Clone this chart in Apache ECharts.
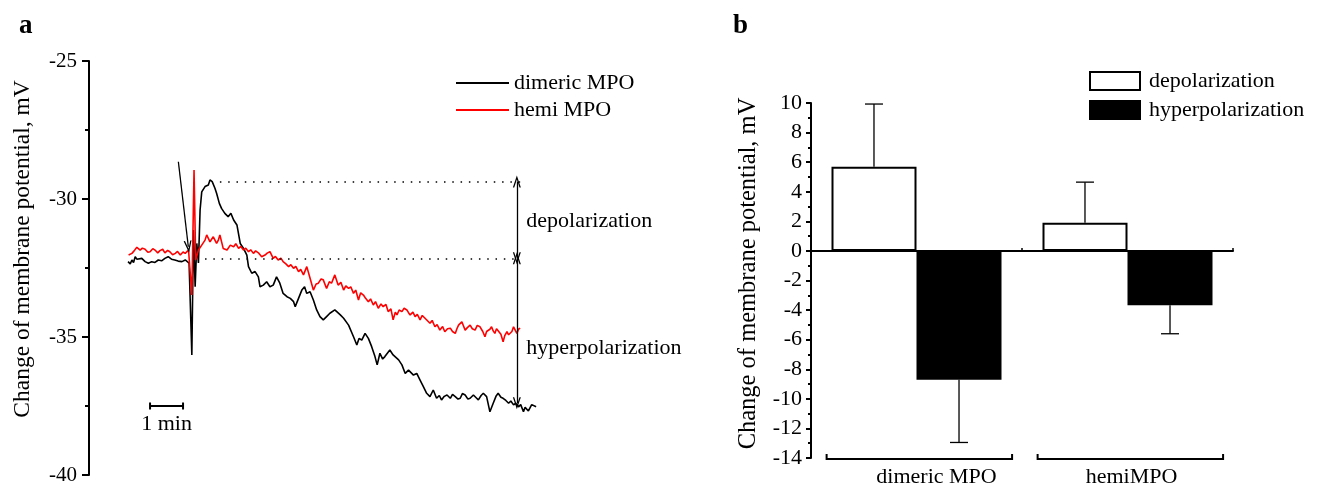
<!DOCTYPE html>
<html><head><meta charset="utf-8">
<script src="https://cdn.jsdelivr.net/npm/echarts@6/dist/echarts.min.js"></script>
<style>html,body{margin:0;padding:0;background:#fff}#c{width:1320px;height:488px}</style>
</head><body><div id="c"></div>
<script>
const FONT = 'Liberation Serif';

// ---------- Panel a : traces (time in s, potential in mV) ----------
const dimericTrace = [[0,-32.27],[4,-32.35],[7,-32.21],[10,-32.30],[13,-32.09],[16,-32.18],[19,-32.21],[25,-32.15],[31,-32.27],[37,-32.33],[43,-32.27],[49,-32.30],[55,-32.21],[61,-32.24],[67,-32.15],[73,-32.09],[79,-32.18],[85,-32.21],[91,-32.25],[98,-32.27],[104,-32.21],[111,-32.32],[116,-35.65],[119,-31.12],[122,-33.18],[125,-31.61],[128,-32.32],[131,-30.40],[134,-29.74],[140,-29.55],[146,-29.49],[149,-29.31],[153,-29.37],[158,-29.61],[161,-29.79],[166,-30.16],[170,-30.34],[176,-30.52],[182,-30.64],[187,-30.52],[192,-30.76],[198,-30.94],[204,-31.61],[210,-31.79],[216,-32.03],[219,-32.45],[225,-32.69],[231,-32.63],[237,-32.82],[240,-33.18],[246,-33.12],[252,-33.00],[258,-33.18],[264,-33.12],[270,-32.82],[276,-33.05],[282,-33.42],[289,-33.54],[295,-33.60],[301,-33.72],[304,-33.90],[310,-33.60],[316,-33.30],[321,-33.18],[325,-33.42],[331,-33.36],[337,-33.66],[343,-34.02],[349,-34.26],[355,-34.38],[361,-34.26],[367,-34.14],[376,-34.02],[386,-34.20],[392,-34.32],[401,-34.57],[410,-34.99],[416,-35.29],[420,-35.05],[425,-35.11],[431,-34.87],[437,-35.05],[443,-35.35],[449,-35.71],[453,-36.01],[458,-35.59],[463,-35.80],[467,-35.71],[476,-35.47],[482,-35.65],[492,-35.83],[498,-36.01],[504,-36.32],[510,-36.20],[519,-36.38],[525,-36.32],[531,-36.56],[537,-36.80],[543,-37.04],[549,-37.16],[555,-36.92],[561,-37.22],[566,-37.12],[570,-37.28],[575,-37.15],[580,-37.10],[586,-37.22],[590,-37.08],[595,-37.16],[600,-37.25],[604,-37.22],[608,-37.05],[613,-37.10],[618,-37.25],[622,-37.22],[628,-37.10],[633,-37.20],[637,-37.28],[642,-37.12],[646,-37.04],[652,-37.16],[658,-37.71],[664,-37.40],[669,-37.15],[673,-37.04],[678,-37.18],[682,-37.22],[687,-37.30],[692,-37.40],[696,-37.32],[701,-37.46],[705,-37.40],[710,-37.53],[714,-37.45],[719,-37.71],[722,-37.55],[725,-37.53],[728,-37.68],[731,-37.64],[734,-37.45],[737,-37.46],[742,-37.53]];

const hemiTrace = [[1,-32.03],[7,-31.97],[11,-31.88],[16,-31.75],[22,-31.85],[26,-31.78],[31,-31.82],[36,-31.93],[40,-31.91],[45,-31.80],[49,-31.85],[54,-31.95],[58,-31.87],[63,-31.82],[67,-31.95],[72,-31.86],[76,-31.91],[81,-32.02],[86,-31.97],[90,-31.90],[95,-32.03],[100,-31.92],[104,-31.97],[110,-31.85],[116,-33.48],[120,-28.95],[123,-32.21],[128,-31.85],[134,-31.67],[140,-31.49],[143,-31.30],[149,-31.55],[155,-31.37],[161,-31.61],[164,-31.50],[167,-31.30],[173,-31.79],[180,-31.85],[186,-31.67],[192,-31.73],[196,-31.62],[201,-31.79],[205,-31.72],[210,-31.85],[214,-31.78],[219,-31.91],[223,-31.84],[228,-31.97],[232,-31.88],[237,-31.95],[243,-32.09],[249,-32.03],[253,-31.96],[258,-31.91],[264,-32.15],[268,-32.08],[273,-32.21],[278,-32.14],[282,-32.27],[287,-32.35],[292,-32.45],[296,-32.38],[301,-32.51],[305,-32.44],[310,-32.63],[314,-32.55],[319,-32.75],[325,-32.45],[331,-32.87],[337,-33.30],[342,-33.08],[346,-33.05],[351,-32.90],[355,-32.93],[361,-33.24],[366,-33.00],[370,-33.05],[376,-32.75],[382,-33.12],[387,-33.02],[392,-33.30],[396,-33.15],[401,-33.24],[405,-33.18],[410,-33.42],[414,-33.30],[419,-33.66],[423,-33.40],[428,-33.48],[432,-33.60],[437,-33.72],[441,-33.62],[446,-33.84],[450,-33.72],[455,-33.96],[460,-33.80],[464,-33.90],[469,-33.82],[473,-34.08],[478,-33.98],[482,-34.38],[486,-34.10],[489,-34.20],[493,-34.02],[498,-34.08],[502,-33.96],[507,-34.02],[510,-34.12],[513,-34.20],[518,-34.10],[522,-34.26],[526,-34.18],[531,-34.38],[535,-34.22],[540,-34.32],[545,-34.42],[549,-34.50],[553,-34.40],[558,-34.63],[562,-34.55],[567,-34.75],[572,-34.62],[576,-34.81],[581,-34.70],[586,-34.68],[590,-34.80],[595,-34.87],[598,-34.70],[601,-34.57],[604,-34.62],[607,-34.45],[610,-34.60],[613,-34.75],[617,-34.66],[622,-34.57],[626,-34.70],[631,-34.75],[635,-34.58],[640,-34.63],[645,-34.80],[649,-34.99],[652,-34.80],[655,-34.87],[658,-34.72],[661,-34.63],[664,-34.78],[667,-34.87],[670,-34.70],[673,-34.75],[678,-34.90],[682,-35.17],[685,-34.95],[689,-34.81],[692,-34.92],[695,-34.99],[698,-34.80],[701,-34.63],[704,-34.75],[707,-34.87],[710,-34.72],[713,-34.68]];

const scaleBar = [[40,-37.5],[100,-37.5]];          // 1 min scale bar
const peakLevel = -29.37;       // dotted line, depolarization peak
const baseLevel = -32.15;       // dotted line, baseline
const hyperLevel = -37.40;      // end of hyperpolarization arrow
const arrowTime = 707;          // time of the double arrows
const dotEnd = 713;
const pointerFrom = [91.5, -28.65];
const pointerTo = [109.6, -31.73];

// ---------- Panel b : mean change, mV ----------
const groups = ['dimeric MPO', 'hemiMPO'];
const depolMean = [5.69, 1.91];
const depolErr = [4.24, 2.74];
const hyperMean = [-8.71, -3.68];
const hyperErr = [4.24, 1.92];

const ARROW = 'path://M0,12 L5,0 L10,12 L8.3,12 L5,3.9 L1.7,12 Z';
const txt = {fontFamily: FONT, color: '#000'};
const dotted = {type: [1.5, 6.8], width: 1.5};

const chart = echarts.init(document.getElementById('c'), null, {renderer: 'canvas'});
chart.setOption({
  animation: false,
  backgroundColor: '#fff',
  title: [
    {text: 'a', left: 14, top: 8, textStyle: {...txt, fontSize: 27, fontWeight: 'bold'}},
    {text: 'b', left: 728, top: 8, textStyle: {...txt, fontSize: 27, fontWeight: 'bold'}}
  ],
  legend: [
    {data: ['dimeric MPO', 'hemi MPO'], orient: 'vertical', left: 451, top: 67, itemWidth: 53, itemHeight: 2,
     itemGap: 5, icon: 'rect', textStyle: {...txt, fontSize: 22}, selectedMode: false},
    {data: ['depolarization', 'hyperpolarization'], orient: 'vertical', left: 1084, top: 65, itemWidth: 50, itemHeight: 18,
     itemGap: 7, icon: 'rect', textStyle: {...txt, fontSize: 22, padding: [0, 0, 0, 4]}, selectedMode: false}
  ],
  grid: [
    {left: 89, top: 61, width: 468, height: 414},
    {left: 811, top: 103, width: 422, height: 355}
  ],
  xAxis: [
    {gridIndex: 0, type: 'value', min: -71, max: 780, show: false},
    {gridIndex: 1, type: 'category', data: groups,
     axisLine: {onZero: true, lineStyle: {color: '#000', width: 2}},
     axisTick: {show: true, inside: true, length: 3, lineStyle: {color: '#000', width: 1.5}},
     axisLabel: {show: false}, splitLine: {show: false}},
    {gridIndex: 1, type: 'category', data: groups, position: 'bottom',
     axisLine: {show: false, onZero: false}, axisTick: {show: false}, splitLine: {show: false},
     axisLabel: {margin: 8, formatter: (v, i) => i === 0 ? '{a|' + v + '}' : '{b|' + v + '}',
       rich: {a: {...txt, fontSize: 22, padding: [0, 0, 0, 40]}, b: {...txt, fontSize: 22, padding: [0, 0, 0, 8]}}}}
  ],
  yAxis: [
    {gridIndex: 0, type: 'value', min: -40, max: -25, interval: 5,
     axisLine: {show: true, onZero: false, lineStyle: {color: '#000', width: 2}},
     axisTick: {show: true, length: 7, lineStyle: {color: '#000', width: 2}},
     minorTick: {show: true, splitNumber: 2, length: 4, lineStyle: {color: '#000', width: 2}},
     splitLine: {show: false},
     axisLabel: {...txt, fontSize: 21, margin: 12},
     name: 'Change of membrane potential, mV', nameLocation: 'middle', nameGap: 54,
     nameTextStyle: {...txt, fontSize: 23.5, padding: [0, 0, 0, 38]}},
    {gridIndex: 1, type: 'value', min: -14, max: 10, interval: 2,
     axisLine: {show: true, onZero: false, lineStyle: {color: '#000', width: 2}},
     axisTick: {show: true, length: 5, lineStyle: {color: '#000', width: 2}},
     minorTick: {show: true, splitNumber: 2, length: 3, lineStyle: {color: '#000', width: 2}},
     splitLine: {show: false},
     axisLabel: {...txt, fontSize: 22, margin: 9},
     name: 'Change of membrane potential, mV', nameLocation: 'middle', nameGap: 50,
     nameTextStyle: {...txt, fontSize: 24.5, padding: [0, 0, 0, 14]}}
  ],
  series: [
    {name: 'dimeric MPO', type: 'line', xAxisIndex: 0, yAxisIndex: 0, data: dimericTrace, symbol: 'none',
     lineStyle: {color: '#000', width: 1.6}, itemStyle: {color: '#000'}, z: 3,
     markLine: {silent: true, animation: false, symbol: ['none', 'none'], label: {show: false},
       lineStyle: {color: '#000', width: 1.3, type: 'solid'},
       data: [
         [{coord: pointerFrom}, {coord: pointerTo, symbol: ARROW, symbolSize: [8, 12]}],
         [{coord: [167, peakLevel], lineStyle: dotted}, {coord: [dotEnd, peakLevel]}],
         [{coord: [140, baseLevel], lineStyle: dotted}, {coord: [dotEnd, baseLevel]}],
         [{coord: [arrowTime, peakLevel], symbol: ARROW, symbolSize: [8, 12]}, {coord: [arrowTime, baseLevel], symbol: ARROW, symbolSize: [8, 12]}],
         [{coord: [arrowTime, baseLevel], symbol: ARROW, symbolSize: [8, 12]}, {coord: [arrowTime, hyperLevel], symbol: ARROW, symbolSize: [8, 12]}]
       ]},
     markPoint: {silent: true, animation: false, symbol: 'circle', symbolSize: 1, itemStyle: {color: 'rgba(0,0,0,0)'},
       label: {show: true, position: 'right', distance: 9, formatter: p => p.name, ...txt, fontSize: 22},
       data: [
         {name: 'depolarization', coord: [arrowTime, (peakLevel + baseLevel) / 2 - 0.05]},
         {name: 'hyperpolarization', coord: [arrowTime, -35.41]}
       ]}},
    {name: 'hemi MPO', type: 'line', xAxisIndex: 0, yAxisIndex: 0, data: hemiTrace, symbol: 'none',
     lineStyle: {color: '#ff0000', width: 1.6}, itemStyle: {color: '#ff0000'}, z: 4},
    {name: 'scale', type: 'line', xAxisIndex: 0, yAxisIndex: 0, data: scaleBar, symbol: 'rect', symbolSize: [2, 7],
     showSymbol: true, lineStyle: {color: '#000', width: 2}, itemStyle: {color: '#000'},
     markPoint: {silent: true, symbol: 'circle', symbolSize: 1, itemStyle: {color: 'rgba(0,0,0,0)'},
       label: {show: true, position: 'bottom', distance: 7, formatter: '1 min', ...txt, fontSize: 22},
       data: [{coord: [70, -37.5]}]}},
    {name: 'depolarization', type: 'bar', xAxisIndex: 1, yAxisIndex: 1, data: depolMean, barWidth: 85, barGap: '0%',
     itemStyle: {color: '#fff', borderColor: '#000', borderWidth: 2}},
    {name: 'hyperpolarization', type: 'bar', xAxisIndex: 1, yAxisIndex: 1, data: hyperMean, barWidth: 85, barGap: '0%',
     itemStyle: {color: '#000', borderColor: '#000', borderWidth: 2}},
    {name: 'errors', type: 'custom', xAxisIndex: 1, yAxisIndex: 1, z: 5,
     data: [...depolMean.map((v, i) => [i, v, depolErr[i], -1]), ...hyperMean.map((v, i) => [i, v, hyperErr[i], 1])],
     encode: {x: 0, y: 1},
     renderItem: (params, api) => {
       const i = api.value(0), v = api.value(1), e = api.value(2), side = api.value(3);
       const band = api.size([1, 0])[0];
       const base = api.coord([i, v]);
       const tip = api.coord([i, v + (v >= 0 ? e : -e)]);
       const x = base[0] + side * band * 0.2015;
       return {type: 'group', children: [
         {type: 'line', shape: {x1: x, y1: base[1], x2: x, y2: tip[1]}, style: {stroke: '#000', lineWidth: 1.3}},
         {type: 'line', shape: {x1: x - 9, y1: tip[1], x2: x + 9, y2: tip[1]}, style: {stroke: '#000', lineWidth: 1.3}}
       ]};
     }},
    {name: 'brackets', type: 'custom', xAxisIndex: 1, yAxisIndex: 1, z: 5,
     data: groups.map((g, i) => [i, -14]), encode: {x: 0, y: 1},
     renderItem: (params, api) => {
       const p = api.coord([api.value(0), -14]);
       const band = api.size([1, 0])[0];
       const x1 = p[0] - band * 0.426, x2 = p[0] + band * 0.453, y = p[1] + 1;
       return {type: 'polyline', shape: {points: [[x1, y - 5], [x1, y], [x2, y], [x2, y - 5]]},
               style: {stroke: '#000', lineWidth: 2, fill: 'none'}};
     }}
  ]
});
</script></body></html>
